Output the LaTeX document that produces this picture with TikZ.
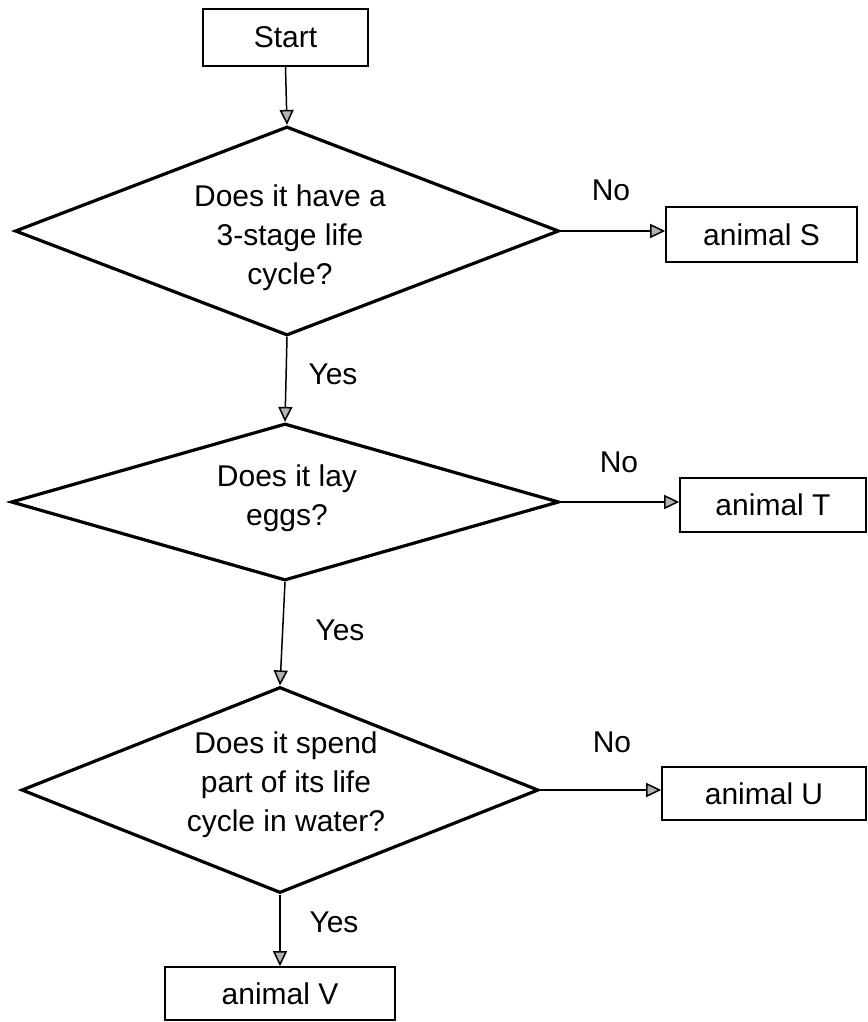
\documentclass[tikz,border=0pt]{standalone}
\usepackage{fontspec}
\setmainfont{Liberation Sans}
\usetikzlibrary{shapes.geometric,arrows.meta}
\begin{document}
\begin{tikzpicture}[x=1pt,y=-1pt,
  box/.style={draw,line width=1.6pt,inner sep=0},
  dia/.style={draw,diamond,line width=3.2pt,inner sep=0},
  qtext/.style={inner sep=0,align=center},
  conn/.style={line width=1.5pt,-{Triangle[length=15pt,width=14pt,fill=gray!60]}},
  lbl/.style={inner sep=0},
  font=\fontsize{30}{39}\selectfont]
\useasboundingbox (0,0) rectangle (867,1022);
\node[box,minimum width=165,minimum height=57] (start) at (285.5,37.5) {Start};
\node[dia,minimum width=544,minimum height=209] (d1) at (287,231) {};
\node[dia,minimum width=548,minimum height=157] (d2) at (285,502) {};
\node[dia,minimum width=517,minimum height=206] (d3) at (280,790) {};
\node[qtext] (q1) at (290,238) {Does it have a\\3-stage life\\cycle?};
\node[qtext] (q2) at (287,498) {Does it lay\\eggs?};
\node[qtext] (q3) at (286,785) {Does it spend\\part of its life\\cycle in water?};
\node[box,minimum width=191,minimum height=55] (s) at (761.5,234.5) {animal S};
\node[box,minimum width=186,minimum height=54] (t) at (773,505) {animal T};
\node[box,minimum width=204,minimum height=53] (u) at (764,793.5) {animal U};
\node[box,minimum width=230,minimum height=53] (v) at (280,993.5) {animal V};
\draw[conn] (start.south) -- (d1.north);
\draw[conn] (d1.south) -- (d2.north);
\draw[conn] (d2.south) -- (d3.north);
\draw[conn] (d3.south) -- (d3.south |- v.north);
\draw[conn] (d1.east) -- (d1.east -| s.west);
\draw[conn] (d2.east) -- (d2.east -| t.west);
\draw[conn] (d3.east) -- (d3.east -| u.west);
\node[lbl] (no1) at (611,190) {No};
\node[lbl] (no2) at (619,462) {No};
\node[lbl] (no3) at (612,742) {No};
\node[lbl] (yes1) at (333,374) {Yes};
\node[lbl] (yes2) at (340,630) {Yes};
\node[lbl] (yes3) at (334,922) {Yes};
\end{tikzpicture}
\end{document}
